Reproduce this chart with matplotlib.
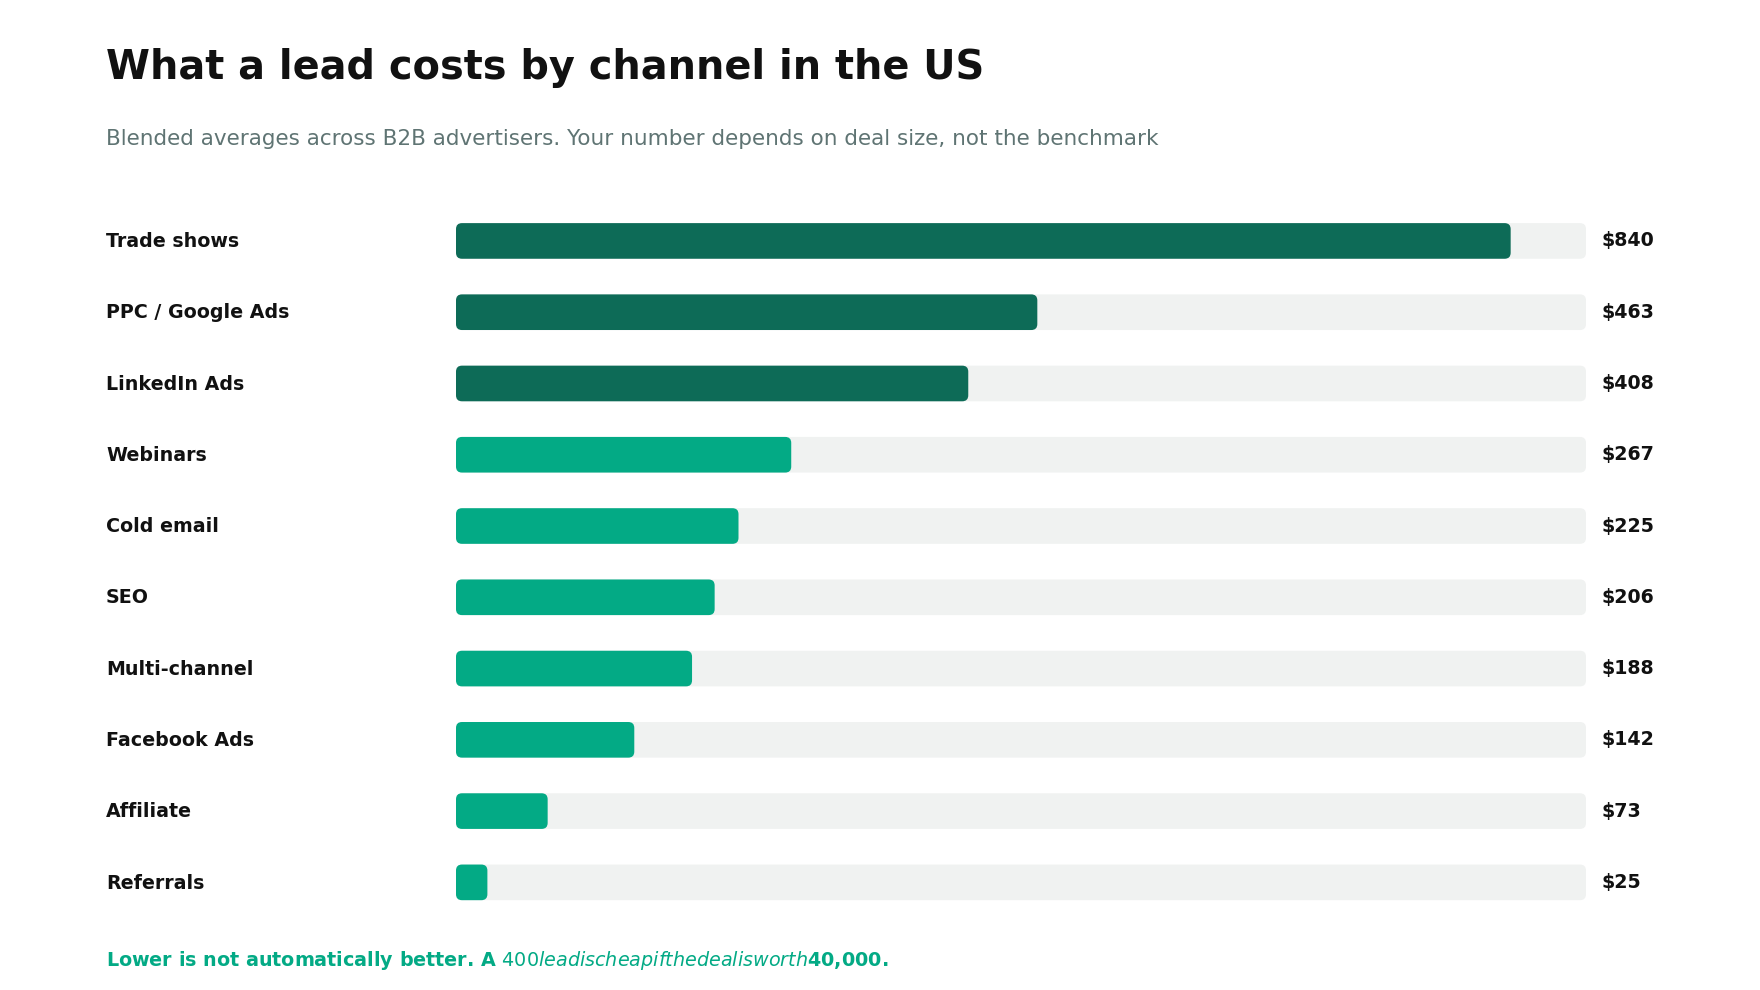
import matplotlib.pyplot as plt
import matplotlib.transforms as mtransforms
from matplotlib.patches import FancyBboxPatch

# Datos del gráfico
channels = ['Trade shows', 'PPC / Google Ads', 'LinkedIn Ads', 'Webinars', 'Cold email',
            'SEO', 'Multi-channel', 'Facebook Ads', 'Affiliate', 'Referrals']
costs = [840, 463, 408, 267, 225, 206, 188, 142, 73, 25]
value_labels = ['$840', '$463', '$408', '$267', '$225', '$206', '$188', '$142', '$73', '$25']
track_max = 900

title = 'What a lead costs by channel in the US'
subtitle = 'Blended averages across B2B advertisers. Your number depends on deal size, not the benchmark'
footer = 'Lower is not automatically better. A $400 lead is cheap if the deal is worth $40,000.'

DARK = '#0d6b57'
BRIGHT = '#03aa85'
TRACK = '#f0f2f1'

W, H = 1760, 990
fig = plt.figure(figsize=(W / 100, H / 100), dpi=100)
fig.patch.set_facecolor('white')

ax = fig.add_axes([456 / W, (H - 918) / H, (1586 - 456) / W, 712.7 / H])
ax.set_xlim(0, track_max)
ax.set_ylim(len(channels) - 0.5, -0.5)
ax.axis('off')

# Radio de las esquinas en píxeles -> unidades de datos
x0, y0 = ax.transData.transform((0, 0))
x1, y1 = ax.transData.transform((1, 1))
px_x, px_y = abs(x1 - x0), abs(y1 - y0)
rad = 6 / px_x
aspect = px_x / px_y
bar_h = 0.5

for i, (name, cost, lab) in enumerate(zip(channels, costs, value_labels)):
    ax.add_patch(FancyBboxPatch((0, i - bar_h / 2), track_max, bar_h,
                                boxstyle=f'round,pad=0,rounding_size={rad}',
                                mutation_aspect=aspect, fc=TRACK, ec='none'))
    color = DARK if cost >= 400 else BRIGHT
    ax.add_patch(FancyBboxPatch((0, i - bar_h / 2), cost, bar_h,
                                boxstyle=f'round,pad=0,rounding_size={rad}',
                                mutation_aspect=aspect, fc=color, ec='none'))

trans = mtransforms.blended_transform_factory(fig.transFigure, ax.transData)
for i, (name, lab) in enumerate(zip(channels, value_labels)):
    ax.text(106 / W, i + 0.01, name, transform=trans, ha='left', va='center',
            fontsize=13.7, fontweight='bold', color='#111111')
    ax.text(1601 / W, i, lab, transform=trans, ha='left', va='center',
            fontsize=13.7, fontweight='bold', color='#111111')

fig.text(106 / W, 1 - 68 / H, title, ha='left', va='center',
         fontsize=28.7, fontweight='bold', color='#111111')
fig.text(106 / W, 1 - 139 / H, subtitle, ha='left', va='center',
         fontsize=15.45, color='#5f7473')
fig.text(106 / W, 1 - 961 / H, footer, ha='left', va='center',
         fontsize=13.8, fontweight='bold', color=BRIGHT)

fig.savefig('out.png', dpi=100)
